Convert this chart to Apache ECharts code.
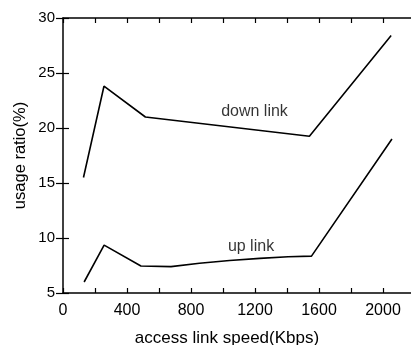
<!DOCTYPE html>
<html><head><meta charset="utf-8">
<script src="https://cdn.jsdelivr.net/npm/echarts@6/dist/echarts.min.js"></script>
<style>html,body{margin:0;padding:0;background:#fff}#c{width:411px;height:345px}</style>
</head><body><div id="c"></div>
<script>
const downX = [128, 256, 515, 1540, 2051];
const downY = [15.5, 23.8, 21.0, 19.25, 28.4];
const upX = [132, 257, 487, 675, 853, 1041, 1230, 1407, 1553, 2056];
const upY = [6.0, 9.35, 7.45, 7.4, 7.7, 7.95, 8.15, 8.3, 8.35, 19.0];
const labelNames = ['down link', 'up link'];
const labelX = [1197, 1175];
const labelY = [21.45, 9.2];
const xTicks = [0, 400, 800, 1200, 1600, 2000];
const yTicks = [5, 10, 15, 20, 25, 30];

const font = 'Liberation Sans, Arial, sans-serif';
const chart = echarts.init(document.getElementById('c'), null, {renderer: 'canvas'});
chart.setOption({
  animation: false,
  backgroundColor: '#fff',
  grid: {left: 63, top: 18, width: 352, height: 275, containLabel: false, outerBoundsMode: 'none'},
  xAxis: [{
    type: 'value', min: 0, max: 2200, interval: 400,
    name: 'access link speed(Kbps)', nameLocation: 'middle', nameGap: 37, nameMoveOverlap: false,
    nameTextStyle: {color: '#000', fontSize: 17, fontFamily: font, padding: [0, 24, 0, 0]},
    axisLine: {show: true, lineStyle: {color: '#000', width: 1.5}},
    axisTick: {show: true, inside: true, length: 5, lineStyle: {color: '#000', width: 1.2}},
    minorTick: {show: true, splitNumber: 2, length: 5, lineStyle: {color: '#000', width: 1.2}},
    axisLabel: {color: '#000', fontSize: 16, fontFamily: font, margin: 10,
      formatter: v => xTicks.includes(v) ? String(v) : ''},
    splitLine: {show: false}
  }, {
    type: 'value', min: 0, max: 2200, interval: 400, position: 'top',
    axisLine: {show: true, onZero: false, lineStyle: {color: '#000', width: 1.5}},
    axisTick: {show: true, inside: true, length: 5, lineStyle: {color: '#000', width: 1.2}},
    minorTick: {show: true, splitNumber: 2, length: 5, lineStyle: {color: '#000', width: 1.2}},
    axisLabel: {show: false}, splitLine: {show: false}
  }],
  yAxis: [{
    type: 'value', min: 5, max: 30, interval: 5,
    name: 'usage ratio(%)', nameLocation: 'middle', nameGap: 34, nameMoveOverlap: false,
    nameTextStyle: {color: '#000', fontSize: 16.5, fontFamily: font},
    axisLine: {show: true, lineStyle: {color: '#000', width: 1.5}},
    axisTick: {show: true, inside: true, length: 6, lineStyle: {color: '#000', width: 1.2}},
    axisLabel: {color: '#000', fontSize: 15, fontFamily: font, margin: 8,
      formatter: v => yTicks.includes(v) ? String(v) : ''},
    splitLine: {show: false}
  }, {
    type: 'value', min: 5, max: 30, interval: 5, position: 'right',
    axisLine: {show: false},
    axisTick: {show: true, inside: true, length: 7, lineStyle: {color: '#000', width: 1.2}},
    axisLabel: {show: false}, splitLine: {show: false}
  }],
  series: [{
    type: 'line', name: 'down link', showSymbol: false, symbol: 'none',
    data: downX.map((x, i) => [x, downY[i]]),
    lineStyle: {color: '#000', width: 1.6}
  }, {
    type: 'line', name: 'up link', showSymbol: false, symbol: 'none',
    data: upX.map((x, i) => [x, upY[i]]),
    lineStyle: {color: '#000', width: 1.6}
  }, {
    type: 'scatter', symbolSize: 0, silent: true,
    data: labelNames.map((n, i) => ({value: [labelX[i], labelY[i]], name: n})),
    label: {show: true, position: 'inside', formatter: p => p.name,
      color: '#000', fontSize: 16, fontFamily: font}
  }]
});
</script></body></html>
